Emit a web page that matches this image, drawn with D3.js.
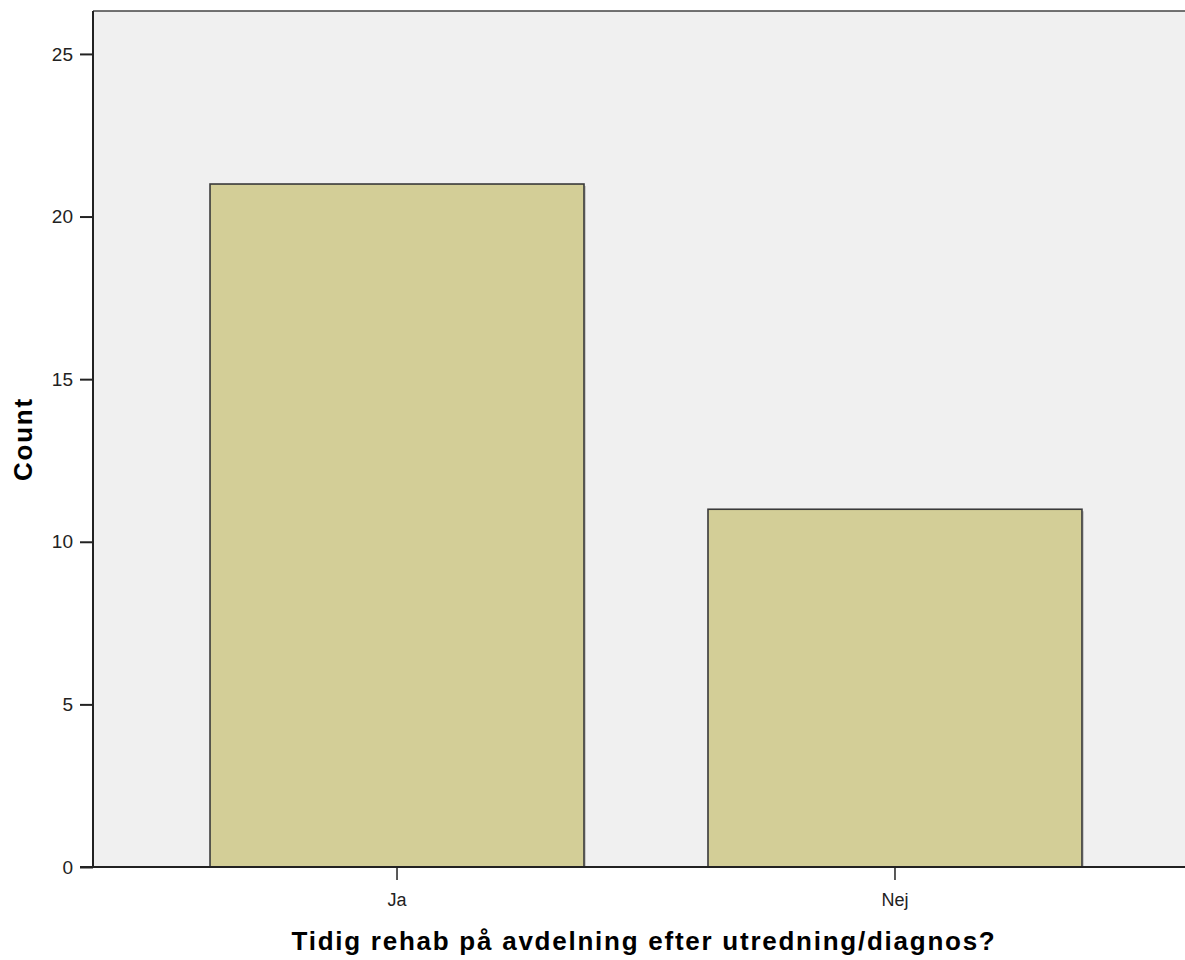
<!DOCTYPE html>
<html>
<head>
<meta charset="utf-8">
<script src="https://cdn.jsdelivr.net/npm/d3@7"></script>
<style>
  html, body { margin: 0; padding: 0; background: #ffffff; overflow: hidden; }
  svg { display: block; }
</style>
</head>
<body>
<svg id="chart" width="1185" height="960"></svg>
<script>
const categories = ["Ja", "Nej"];
const counts = [21, 11];
const yTicks = [0, 5, 10, 15, 20, 25];
const xTitle = "Tidig rehab på avdelning efter utredning/diagnos?";
const yTitle = "Count";

const svg = d3.select("#chart");
const pLeft = 93, pRight = 1199, pTop = 11, pBottom = 867;

const x = d3.scaleBand().domain(categories).range([pLeft, pRight])
  .paddingInner(0.249).paddingOuter(0.235);
const y = d3.scaleLinear().domain([0, 26.32]).range([pBottom, pTop]);

// plot background
svg.append("rect").attr("x", pLeft).attr("y", pTop)
  .attr("width", pRight - pLeft).attr("height", pBottom - pTop)
  .attr("fill", "#f0f0f0");

// bar shadows
svg.append("g").selectAll("rect").data(categories).join("rect")
  .attr("x", d => x(d) + 2)
  .attr("y", (d, i) => y(counts[i]) + 2)
  .attr("width", x.bandwidth())
  .attr("height", (d, i) => pBottom - y(counts[i]) - 2)
  .attr("fill", "#c8c8c8");

// bars
svg.append("g").selectAll("rect").data(categories).join("rect")
  .attr("x", d => x(d))
  .attr("y", (d, i) => y(counts[i]))
  .attr("width", x.bandwidth())
  .attr("height", (d, i) => pBottom - y(counts[i]))
  .attr("fill", "#d3ce97")
  .attr("stroke", "#3a3a3a")
  .attr("stroke-width", 1.6);

// frame top line
svg.append("line").attr("x1", pLeft).attr("x2", pRight)
  .attr("y1", pTop).attr("y2", pTop)
  .attr("stroke", "#444").attr("stroke-width", 1.5);

// y axis
const yAxis = d3.axisLeft(y).tickValues(yTicks).tickSize(13).tickPadding(7).tickFormat(d3.format("d"));
const gy = svg.append("g").attr("transform", `translate(${pLeft},0)`).call(yAxis);
gy.select(".domain").attr("stroke", "#222").attr("stroke-width", 2).attr("d", `M0,${pTop}V${pBottom}`);
gy.selectAll(".tick line").attr("stroke", "#222").attr("stroke-width", 2);
gy.selectAll(".tick text").attr("font-family", "Arial, 'Liberation Sans', sans-serif")
  .attr("font-size", 19).attr("fill", "#222");

// x axis
const xAxis = d3.axisBottom(x).tickSize(13).tickPadding(13);
const gx = svg.append("g").attr("transform", `translate(0,${pBottom})`).call(xAxis);
gx.select(".domain").attr("stroke", "#222").attr("stroke-width", 2).attr("d", `M${pLeft - 13},0H${pRight}`);
gx.selectAll(".tick line").attr("stroke", "#222").attr("stroke-width", 1.5);
gx.selectAll(".tick text").attr("font-family", "Arial, 'Liberation Sans', sans-serif")
  .attr("font-size", 18).attr("fill", "#222");

// axis titles
svg.append("text").attr("x", 644).attr("y", 950)
  .attr("text-anchor", "middle")
  .attr("font-family", "Arial, 'Liberation Sans', sans-serif")
  .attr("font-weight", "bold").attr("font-size", 26)
  .attr("letter-spacing", 1.75)
  .attr("fill", "#000").text(xTitle);

svg.append("text")
  .attr("transform", "translate(32,439) rotate(-90)")
  .attr("text-anchor", "middle")
  .attr("font-family", "Arial, 'Liberation Sans', sans-serif")
  .attr("font-weight", "bold").attr("font-size", 26)
  .attr("letter-spacing", 1.75)
  .attr("fill", "#000").text(yTitle);
</script>
</body>
</html>
